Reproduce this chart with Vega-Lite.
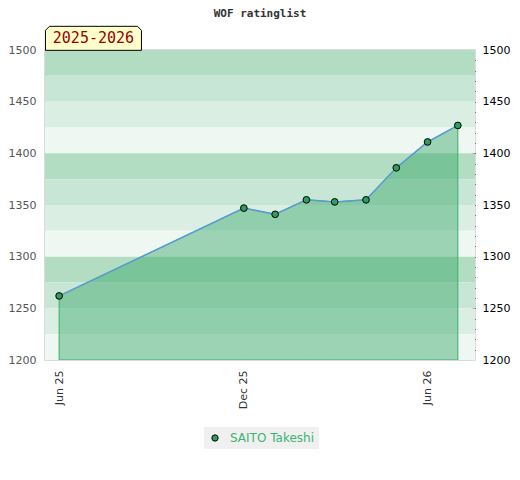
{
  "$schema": "https://vega.github.io/schema/vega-lite/v6.json",
  "width": 430,
  "height": 310,
  "autosize": {"type": "none"},
  "padding": {"left": 45, "top": 50, "right": 45, "bottom": 120},
  "title": {"text": "WOF ratinglist", "font": "DejaVu Sans Mono", "fontSize": 11, "fontWeight": "bold", "color": "#333333", "anchor": "middle", "offset": 5},
  "config": {
    "view": {"stroke": "#d0d0d0", "strokeWidth": 1.5},
    "font": "DejaVu Sans",
    "axisX": {"ticks": false, "domain": false, "grid": false, "labelAngle": 270, "labelColor": "#333333", "labelFontSize": 11, "labelPadding": 10, "labelFlush": false}
  },
  "datasets": {
    "bands": [
      {"lo": 1475, "hi": 1500, "tier": "a"},
      {"lo": 1450, "hi": 1475, "tier": "b"},
      {"lo": 1425, "hi": 1450, "tier": "c"},
      {"lo": 1400, "hi": 1425, "tier": "d"},
      {"lo": 1375, "hi": 1400, "tier": "a"},
      {"lo": 1350, "hi": 1375, "tier": "b"},
      {"lo": 1325, "hi": 1350, "tier": "c"},
      {"lo": 1300, "hi": 1325, "tier": "d"},
      {"lo": 1275, "hi": 1300, "tier": "a"},
      {"lo": 1250, "hi": 1275, "tier": "b"},
      {"lo": 1225, "hi": 1250, "tier": "c"},
      {"lo": 1200, "hi": 1225, "tier": "d"}
    ],
    "ratings": [
      {"date": "2025-06-01", "rating": 1262, "player": "SAITO Takeshi"},
      {"date": "2025-12-01", "rating": 1347, "player": "SAITO Takeshi"},
      {"date": "2026-01-01", "rating": 1341, "player": "SAITO Takeshi"},
      {"date": "2026-02-01", "rating": 1355, "player": "SAITO Takeshi"},
      {"date": "2026-03-01", "rating": 1353, "player": "SAITO Takeshi"},
      {"date": "2026-04-01", "rating": 1355, "player": "SAITO Takeshi"},
      {"date": "2026-05-01", "rating": 1386, "player": "SAITO Takeshi"},
      {"date": "2026-06-01", "rating": 1411, "player": "SAITO Takeshi"},
      {"date": "2026-07-01", "rating": 1427, "player": "SAITO Takeshi"}
    ],
    "season": [{"label": "2025-2026"}]
  },
  "resolve": {"axis": {"y": "independent"}},
  "layer": [
    {
      "data": {"name": "bands"},
      "mark": {"type": "rect", "strokeWidth": 0},
      "encoding": {
        "y": {"field": "lo", "type": "quantitative", "title": null,
              "scale": {"domain": [1200, 1500], "nice": false, "zero": false},
              "axis": {"orient": "left", "values": [1200, 1250, 1300, 1350, 1400, 1450, 1500], "format": "d", "ticks": false, "domain": false, "grid": false, "labelColor": "#555555", "labelFontSize": 11, "labelPadding": 9, "labelFlush": false}},
        "y2": {"field": "hi"},
        "fill": {"field": "tier", "type": "nominal", "legend": null,
                 "scale": {"domain": ["a", "b", "c", "d"], "range": ["#b3ddc3", "#c8e6d5", "#dbeee4", "#eef7f2"]}}
      }
    },
    {
      "data": {"name": "ratings"},
      "mark": {"type": "area", "color": "#2ca25f", "fillOpacity": 0.42, "stroke": "#2fb562", "strokeWidth": 1, "clip": true},
      "encoding": {
        "x": {"field": "date", "type": "temporal", "title": null,
              "scale": {"domain": [{"year": 2025, "month": "may", "date": 18}, {"year": 2026, "month": "jul", "date": 18}]},
              "axis": {"orient": "bottom", "values": [{"year": 2025, "month": "jun", "date": 1}, {"year": 2025, "month": "dec", "date": 1}, {"year": 2026, "month": "jun", "date": 1}], "format": "%b %y"}},
        "y": {"field": "rating", "type": "quantitative", "title": null,
              "scale": {"domain": [1200, 1500], "nice": false, "zero": false},
              "axis": {"orient": "right", "values": [1200,1210,1220,1230,1240,1250,1260,1270,1280,1290,1300,1310,1320,1330,1340,1350,1360,1370,1380,1390,1400,1410,1420,1430,1440,1450,1460,1470,1480,1490,1500],
                       "labelExpr": "datum.value % 50 == 0 ? format(datum.value, 'd') : ''", "labelOverlap": false, "labelFlush": false,
                       "offset": -3, "tickSize": 3, "tickColor": "#000000", "tickOpacity": {"condition": {"test": "datum.value == 1200 || datum.value == 1500", "value": 0}, "value": 1},
                       "labelColor": "#000000", "labelFontSize": 11, "labelPadding": 7, "domain": false, "grid": false}},
        "y2": {"datum": 1200}
      }
    },
    {
      "data": {"name": "ratings"},
      "mark": {"type": "line", "color": "#5b9bd5", "strokeWidth": 1.5},
      "encoding": {
        "x": {"field": "date", "type": "temporal", "title": null,
              "scale": {"domain": [{"year": 2025, "month": "may", "date": 18}, {"year": 2026, "month": "jul", "date": 18}]}},
        "y": {"field": "rating", "type": "quantitative", "axis": null,
              "scale": {"domain": [1200, 1500], "nice": false, "zero": false}}
      }
    },
    {
      "data": {"name": "ratings"},
      "mark": {"type": "point", "filled": true, "opacity": 1, "stroke": "#000000", "strokeWidth": 1, "size": 45},
      "encoding": {
        "x": {"field": "date", "type": "temporal", "title": null,
              "scale": {"domain": [{"year": 2025, "month": "may", "date": 18}, {"year": 2026, "month": "jul", "date": 18}]}},
        "y": {"field": "rating", "type": "quantitative", "axis": null,
              "scale": {"domain": [1200, 1500], "nice": false, "zero": false}},
        "color": {"field": "player", "type": "nominal",
                  "scale": {"range": ["#2e9e5e"]},
                  "legend": {"orient": "none", "legendX": 159, "legendY": 377, "title": null, "fillColor": "#f0f0f0", "padding": 5,
                             "labelColor": "#3cb371", "labelFontSize": 12, "labelOffset": 9, "symbolType": "circle", "symbolSize": 40,
                             "symbolStrokeColor": "#000000", "symbolStrokeWidth": 1, "symbolOpacity": 1}}
      }
    },
    {
      "data": {"name": "season"},
      "mark": {"type": "point", "shape": "M -1,0.25 L -1,-0.1667 L -0.9167,-0.25 L 0.9167,-0.25 L 1,-0.1667 L 1,0.25 Z", "size": 9216, "filled": true, "fill": "#ffffcc", "stroke": "#000000", "strokeWidth": 1, "opacity": 1},
      "encoding": {
        "x": {"datum": {"year": 2025, "month": "jul", "date": 5}, "type": "temporal", "title": null,
              "scale": {"domain": [{"year": 2025, "month": "may", "date": 18}, {"year": 2026, "month": "jul", "date": 18}]}},
        "y": {"datum": 1511.3, "type": "quantitative", "axis": null,
              "scale": {"domain": [1200, 1500], "nice": false, "zero": false}}
      }
    },
    {
      "data": {"name": "season"},
      "mark": {"type": "text", "font": "DejaVu Sans Mono", "fontSize": 15, "color": "#990000", "align": "center", "baseline": "middle"},
      "encoding": {
        "x": {"datum": {"year": 2025, "month": "jul", "date": 5}, "type": "temporal", "title": null,
              "scale": {"domain": [{"year": 2025, "month": "may", "date": 18}, {"year": 2026, "month": "jul", "date": 18}]}},
        "y": {"datum": 1511.3, "type": "quantitative", "axis": null,
              "scale": {"domain": [1200, 1500], "nice": false, "zero": false}},
        "text": {"field": "label"}
      }
    }
  ]
}
